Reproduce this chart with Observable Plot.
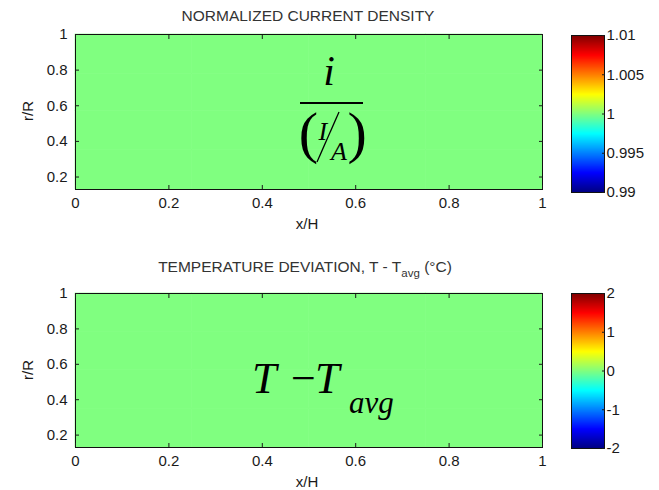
<!DOCTYPE html>
<html><head><meta charset="utf-8">
<script src="https://cdn.jsdelivr.net/npm/d3@7"></script>
<script src="https://cdn.jsdelivr.net/npm/@observablehq/plot@0.6"></script>
<style>
body{margin:0;background:#fff;}
#fig{position:relative;width:659px;height:490px;overflow:hidden;background:#fff;font-family:"Liberation Sans",Arial,sans-serif;}
#fig > svg{position:absolute;}
</style></head><body><div id="fig"></div>
<script>
// ---- data ----
const xTicks = [0, 0.2, 0.4, 0.6, 0.8, 1];
const rTicks = [0.2, 0.4, 0.6, 0.8, 1];
const xEdges = [0, 0.25, 0.5, 0.75, 1];
const rEdges = [0.13, 0.35, 0.57, 0.78, 1];
const currentDensity = [[1, 1, 1, 1], [1, 1, 1, 1], [1, 1, 1, 1], [1, 1, 1, 1]];
const tempDeviation = [[0, 0, 0, 0], [0, 0, 0, 0], [0, 0, 0, 0], [0, 0, 0, 0]];
const cdTicks = [0.99, 0.995, 1, 1.005, 1.01];
const tdTicks = [-2, -1, 0, 1, 2];
const jetColors = ["#000080", "#0000ff", "#00ffff", "#ffff00", "#ff0000", "#800000"];
const jetStops = [0, 0.125, 0.375, 0.625, 0.875, 1];

const fig = document.getElementById("fig");
const baseStyle = {fontFamily: "'Liberation Sans', Arial, sans-serif", fontSize: "15px", color: "#1a1a1a", background: "transparent", overflow: "visible"};

function jet(lo, hi) {
  return {type: "linear", domain: jetStops.map(t => lo + t * (hi - lo)), range: jetColors, interpolate: "rgb", clamp: true};
}

function panel(values, lo, hi, top, mt, mb) {
  const cells = [];
  values.forEach((row, i) => row.forEach((v, j) => cells.push({x1: xEdges[j], x2: xEdges[j + 1], y1: rEdges[i], y2: rEdges[i + 1], v})));
  const svg = Plot.plot({
    width: 555, height: 240, marginLeft: 75, marginRight: 13, marginTop: mt, marginBottom: mb,
    style: baseStyle,
    x: {domain: [0, 1]}, y: {domain: [0.13, 1]},
    color: jet(lo, hi),
    marks: [
      Plot.rect(cells, {x1: "x1", x2: "x2", y1: "y1", y2: "y2", fill: "v", stroke: "v", strokeWidth: 0.6}),
      Plot.frame({stroke: "#111"}),
      Plot.axisX({ticks: xTicks, tickSize: -4, tickPadding: 11.5, tickFormat: d => String(d), label: null}),
      Plot.axisX({anchor: "top", ticks: xTicks, tickSize: -4, tickFormat: () => "", label: null}),
      Plot.axisY({ticks: rTicks, tickSize: -4, tickPadding: 12, tickFormat: d => String(d), label: null}),
      Plot.axisY({anchor: "right", ticks: rTicks, tickSize: -4, tickFormat: () => "", label: null})
    ]
  });
  svg.style.left = "0px"; svg.style.top = top + "px";
  fig.appendChild(svg);
}

function colorbar(lo, hi, ticks, top, mt, mb) {
  const svg = Plot.plot({
    width: 104, height: 240, marginLeft: 16, marginRight: 55, marginTop: mt, marginBottom: mb,
    style: baseStyle,
    x: {domain: [0, 1], axis: null}, y: {domain: [lo, hi]},
    color: jet(lo, hi),
    marks: [
      Plot.raster({x1: 0, x2: 1, y1: lo, y2: hi, width: 1, height: 240, fill: (x, y) => y}),
      Plot.frame({stroke: "#111"}),
      Plot.axisY({anchor: "right", ticks, tickSize: -3, tickPadding: 5, tickFormat: d => String(d), label: null})
    ]
  });
  svg.style.left = "555px"; svg.style.top = top + "px";
  fig.appendChild(svg);
}

panel(currentDensity, 0.99, 1.01, 0, 34, 51);
colorbar(0.99, 1.01, cdTicks, 0, 35, 48);
panel(tempDeviation, -2, 2, 250, 43, 43);
colorbar(-2, 2, tdTicks, 250, 43, 42);

// ---- text overlay: titles, axis labels, annotations ----
const ns = "http://www.w3.org/2000/svg";
const ov = document.createElementNS(ns, "svg");
ov.setAttribute("width", 659); ov.setAttribute("height", 490);
ov.style.left = "0px"; ov.style.top = "0px"; ov.style.pointerEvents = "none";
ov.innerHTML = `
<g font-family="'Liberation Sans', Arial, sans-serif" fill="#333" font-size="15.5" text-anchor="middle">
  <text x="308" y="21">NORMALIZED CURRENT DENSITY</text>
  <text x="305" y="272">TEMPERATURE DEVIATION, T - T<tspan font-size="11.5" dy="5">avg</tspan><tspan dy="-5"> (°C)</tspan></text>
</g>
<g font-family="'Liberation Sans', Arial, sans-serif" fill="#1a1a1a" font-size="15" text-anchor="middle">
  <text x="307" y="229">x/H</text>
  <text x="307" y="487">x/H</text>
  <text transform="translate(33,111) rotate(-90)">r/R</text>
  <text transform="translate(33,370) rotate(-90)">r/R</text>
</g>
<g font-family="'Liberation Serif', 'Times New Roman', serif" fill="#000">
  <text x="329" y="85" font-size="42" font-style="italic" text-anchor="middle">i</text>
  <line x1="300" x2="363" y1="103" y2="103" stroke="#000" stroke-width="2"/>
  <text x="318" y="152" font-size="58" text-anchor="end">(</text>
  <text x="318.5" y="140" font-size="26" font-style="italic">I</text>
  <line x1="317" y1="162" x2="339" y2="112" stroke="#000" stroke-width="1.3"/>
  <text x="331" y="160" font-size="26" font-style="italic">A</text>
  <text x="347.5" y="152" font-size="58">)</text>
  <text x="252" y="393" font-size="44" font-style="italic">T</text>
  <text x="291" y="393" font-size="44">−</text>
  <text x="315" y="393" font-size="44" font-style="italic">T</text>
  <text x="349" y="413" font-size="31" font-style="italic">avg</text>
</g>`;
fig.appendChild(ov);
</script>
</body></html>
